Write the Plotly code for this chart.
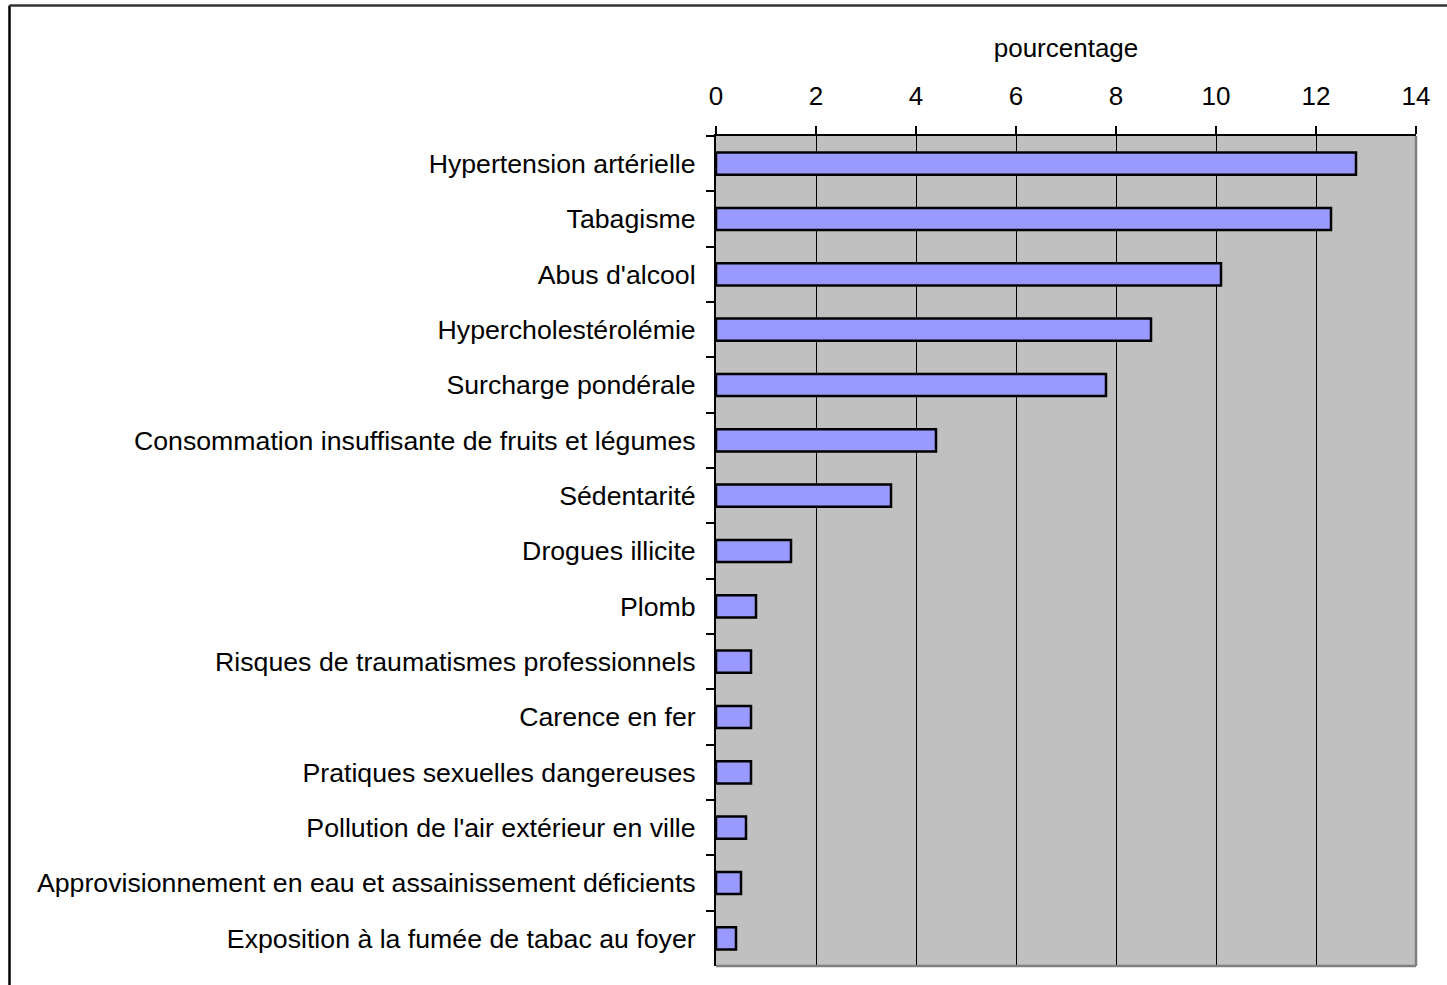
import plotly.graph_objects as go

categories = [
    "Hypertension artérielle",
    "Tabagisme",
    "Abus d'alcool",
    "Hypercholestérolémie",
    "Surcharge pondérale",
    "Consommation insuffisante de fruits et légumes",
    "Sédentarité",
    "Drogues illicite",
    "Plomb",
    "Risques de traumatismes professionnels",
    "Carence en fer",
    "Pratiques sexuelles dangereuses",
    "Pollution de l'air extérieur en ville",
    "Approvisionnement en eau et assainissement déficients",
    "Exposition à la fumée de tabac au foyer",
]
values = [12.8, 12.3, 10.1, 8.7, 7.8, 4.4, 3.5, 1.5, 0.8, 0.7, 0.7, 0.7, 0.6, 0.5, 0.4]
tick_values = [0, 2, 4, 6, 8, 10, 12, 14]

FONT = "Arial, Liberation Sans, sans-serif"

fig = go.Figure(
    go.Bar(
        x=values,
        y=categories,
        orientation="h",
        width=0.4,
        marker=dict(color="#9999FF", line=dict(color="black", width=2.5)),
    )
)

W, H = 1447, 985
L, R, T, B = 716, 31, 136, 19
pw, ph = W - L - R, H - T - B

fig.update_layout(
    width=W,
    height=H,
    margin=dict(l=L, r=R, t=T, b=B, pad=0),
    plot_bgcolor="#C0C0C0",
    paper_bgcolor="white",
    showlegend=False,
    font=dict(family=FONT, size=26, color="black"),
    xaxis=dict(
        side="top",
        range=[0, 14],
        tickvals=tick_values,
        showgrid=True,
        gridcolor="black",
        gridwidth=1,
        zeroline=False,
        showline=True,
        linecolor="black",
        linewidth=2,
        ticks="outside",
        ticklen=8,
        tickcolor="black",
        tickwidth=1.5,
        ticklabelstandoff=11,
        tickfont=dict(size=26),
        title=dict(text="pourcentage", font=dict(size=26), standoff=15),
    ),
    yaxis=dict(
        autorange="reversed",
        showgrid=False,
        showline=True,
        linecolor="black",
        linewidth=2,
        ticks="outside",
        tickson="boundaries",
        ticklen=8,
        tickcolor="black",
        tickwidth=1.5,
        ticklabelstandoff=13,
        tickfont=dict(size=26.7),
    ),
    shapes=[
        # right and bottom plot-area border (gray)
        dict(type="line", xref="paper", yref="paper", x0=1, x1=1, y0=0, y1=1,
             line=dict(color="#808080", width=2.5)),
        dict(type="line", xref="paper", yref="paper", x0=0, x1=1, y0=0, y1=0,
             line=dict(color="#808080", width=2.5)),
        # outer frame (left and top edges visible)
        dict(type="line", xref="paper", yref="paper",
             x0=(9.5 - L) / pw, x1=(9.5 - L) / pw,
             y0=(H - B - 985) / ph, y1=(H - B - 5.5) / ph,
             line=dict(color="black", width=2.5)),
        dict(type="line", xref="paper", yref="paper",
             x0=(9.5 - L) / pw, x1=(1447 - L) / pw,
             y0=(H - B - 5.5) / ph, y1=(H - B - 5.5) / ph,
             line=dict(color="#333333", width=2.5)),
    ],
)

fig.write_html(
    "out.html",
    config={"displayModeBar": False},
    post_script="document.body.style.margin='0';",
)
